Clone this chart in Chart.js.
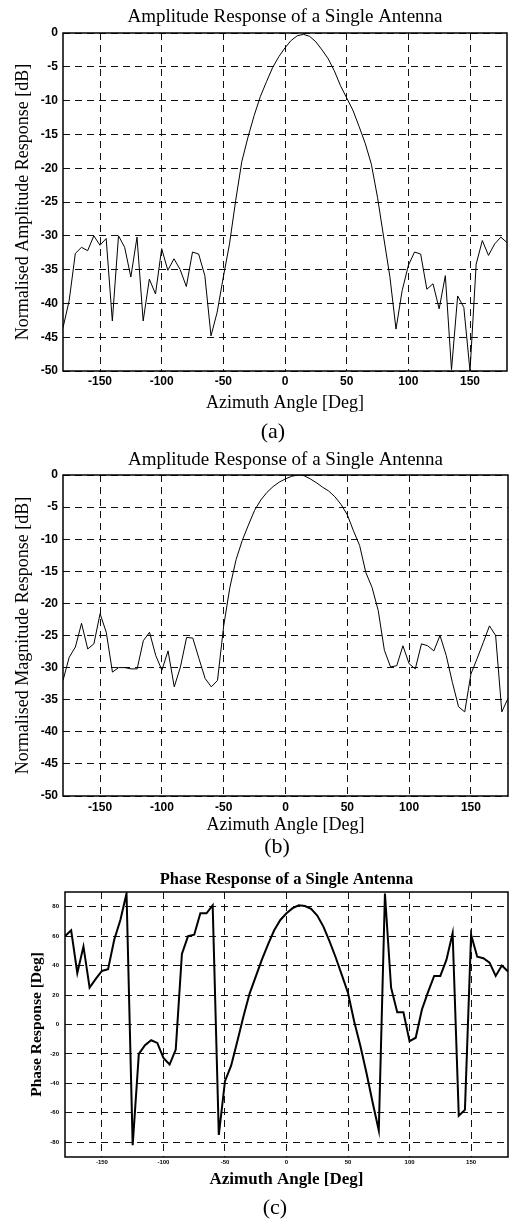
<!DOCTYPE html>
<html>
<head>
<meta charset="utf-8">
<script src="https://cdn.jsdelivr.net/npm/chart.js@4/dist/chart.umd.min.js"></script>
<style>
  body { margin: 0; background: #fff; width: 509px; height: 1219px; position: relative; overflow: hidden; }
  canvas { position: absolute; left: 0; }
  .cap { position: absolute; width: 60px; text-align: center; font-family: "Liberation Serif", "Times New Roman", serif; font-size: 22px; line-height: 24px; color: #000; }
</style>
</head>
<body>
<canvas id="chartA" width="509" height="445" style="top:0"></canvas>
<div class="cap" style="left:243px; top:419px">(a)</div>
<canvas id="chartB" width="509" height="420" style="top:445px"></canvas>
<div class="cap" style="left:247px; top:834px">(b)</div>
<canvas id="chartC" width="509" height="354" style="top:865px"></canvas>
<div class="cap" style="left:245px; top:1195px">(c)</div>
<script>
// azimuth samples, every 5 degrees
const angles = [
  -180, -175, -170, -165, -160, -155, -150, -145, -140, -135, -130, -125,
  -120, -115, -110, -105, -100, -95, -90, -85, -80, -75, -70, -65,
  -60, -55, -50, -45, -40, -35, -30, -25, -20, -15, -10, -5,
  0, 5, 10, 15, 20, 25, 30, 35, 40, 45, 50, 55,
  60, 65, 70, 75, 80, 85, 90, 95, 100, 105, 110, 115,
  120, 125, 130, 135, 140, 145, 150, 155, 160, 165, 170, 175, 180
];

// (a) normalised amplitude [dB]
const ampA = [
  -43.6, -39.6, -32.6, -31.7, -32.2, -30.0, -31.4, -30.4, -42.6, -30.0, -31.7, -36.1,
  -30.2, -42.6, -36.4, -38.6, -31.9, -35.1, -33.4, -35.0, -37.5, -32.4, -32.7, -35.9,
  -44.8, -41.3, -36.1, -31.2, -24.8, -19.0, -15.4, -12.2, -9.4, -7.2, -5.1, -3.5,
  -2.2, -1.1, -0.4, -0.2, -0.5, -1.3, -2.5, -3.8, -5.6, -7.8, -9.6, -11.4,
  -13.8, -16.3, -19.4, -24.3, -30.2, -36.0, -43.8, -38.1, -34.4, -32.4, -32.7, -37.9,
  -37.1, -40.8, -35.9, -49.8, -38.9, -40.6, -50.0, -34.2, -30.7, -32.9, -31.2, -30.2, -31.0
];

// (b) normalised magnitude [dB]
const ampB = [
  -32.0, -28.4, -26.8, -23.1, -27.1, -26.3, -21.6, -24.5, -30.7, -30.0, -30.0, -30.2,
  -30.2, -25.8, -24.5, -28.1, -30.4, -27.4, -33.0, -29.9, -25.3, -25.4, -28.6, -31.7,
  -33.0, -32.0, -23.5, -17.5, -13.2, -10.2, -7.8, -5.5, -3.9, -2.7, -1.8, -1.1,
  -0.6, -0.2, 0.0, -0.1, -0.6, -1.2, -1.9, -2.5, -3.4, -4.6, -6.2, -8.7,
  -11.0, -15.2, -17.5, -21.1, -27.3, -29.9, -29.7, -26.6, -29.4, -30.2, -26.3, -26.6,
  -27.4, -25.0, -28.1, -32.3, -36.1, -36.9, -31.0, -28.6, -26.1, -23.5, -25.0, -36.9, -34.8
];

// (c) phase [deg]
const phaseC = [
  60, 64, 35, 53, 25, 31, 36.4, 37.5, 57.6, 71, 89, -82,
  -20, -14, -10.7, -12.5, -22.7, -27.2, -17, 48, 60, 61, 75.5, 75.5,
  81, -75, -38.5, -28, -11.5, 5.5, 21, 32.5, 44, 54.5, 64, 71,
  75.5, 79, 81, 80.5, 78.5, 74, 66.5, 56.5, 45.5, 33.5, 21.4, 2,
  -14.5, -33, -53, -72, 89, 25, 8.4, 8.4, -11.3, -9, 10, 22,
  33, 33, 44, 62, -62, -58, 61, 46, 45, 42, 33, 40, 36
];

const xTicks = [-150, -100, -50, 0, 50, 100, 150];
const ampTicks = [0, -5, -10, -15, -20, -25, -30, -35, -40, -45, -50];
const phaseTicks = [80, 60, 40, 20, 0, -20, -40, -60, -80];

const serif = '"Liberation Serif", "Times New Roman", serif';
const sans = '"Liberation Sans", Arial, sans-serif';

// solid box round the plot area
const boxBorder = {
  id: 'boxBorder',
  afterDatasetsDraw(chart, args, opts) {
    const {ctx, chartArea: a} = chart;
    ctx.save();
    ctx.strokeStyle = '#000';
    ctx.lineWidth = opts.width;
    ctx.strokeRect(a.left, a.top, a.right - a.left, a.bottom - a.top);
    ctx.restore();
  }
};

function makeChart(id, values, s) {
  return new Chart(document.getElementById(id), {
    type: 'line',
    data: {
      datasets: [{
        data: values.map((v, i) => ({x: angles[i], y: v})),
        borderColor: '#000',
        borderWidth: s.lineWidth,
        pointRadius: 0,
        tension: 0,
        fill: false
      }]
    },
    plugins: [boxBorder],
    options: {
      responsive: false,
      animation: false,
      devicePixelRatio: 1,
      events: [],
      layout: {padding: s.padding},
      plugins: {
        legend: {display: false},
        tooltip: {enabled: false},
        boxBorder: {width: 1.5},
        title: {
          display: true,
          text: s.title,
          fullSize: false,
          color: '#000',
          font: s.titleFont,
          padding: s.titlePadding
        }
      },
      scales: {
        x: {
          type: 'linear',
          min: -180,
          max: 180,
          afterBuildTicks: sc => { sc.ticks = xTicks.map(v => ({value: v})); },
          afterFit: sc => { sc.height = s.xHeight; },
          grid: {color: '#111', lineWidth: 1, drawTicks: false},
          border: {display: false, dash: [7, 5]},
          ticks: {color: '#000', font: s.tickFont, padding: s.xTickPad, maxRotation: 0, autoSkip: false},
          title: {display: true, text: 'Azimuth Angle [Deg]', color: '#000', font: s.xTitleFont, padding: {top: 0, bottom: 0}}
        },
        y: {
          min: s.yMin,
          max: s.yMax,
          afterBuildTicks: sc => { sc.ticks = s.yTicks.map(v => ({value: v})); },
          afterFit: sc => { sc.width = s.yWidth; },
          grid: {color: '#111', lineWidth: 1, drawTicks: false},
          border: {display: false, dash: [7, 5]},
          ticks: {color: '#000', font: s.tickFont, padding: s.yTickPad, autoSkip: false},
          title: {display: true, text: s.yTitle, color: '#000', font: s.yTitleFont, padding: {top: s.yTitlePad, bottom: 0}}
        }
      }
    }
  });
}

makeChart('chartA', ampA, {
  title: 'Amplitude Response of a Single Antenna',
  titleFont: {family: serif, size: 19, weight: 'normal', lineHeight: 1.2},
  titlePadding: {top: 5.6, bottom: 4.6},
  yTitle: 'Normalised Amplitude Response [dB]',
  yTitleFont: {family: serif, size: 18, weight: 'normal', lineHeight: 1.2},
  yTitlePad: 12,
  xTitleFont: {family: serif, size: 18, weight: 'normal', lineHeight: 1.2},
  tickFont: {family: sans, size: 12, weight: 'bold', lineHeight: 1.2},
  yMin: -50, yMax: 0, yTicks: ampTicks,
  yWidth: 63, yTickPad: 5,
  xHeight: 42.8, xTickPad: 3,
  lineWidth: 1,
  padding: {left: 0, right: 2, top: 0, bottom: 31.2}
});

makeChart('chartB', ampB, {
  title: 'Amplitude Response of a Single Antenna',
  titleFont: {family: serif, size: 19, weight: 'normal', lineHeight: 1.2},
  titlePadding: {top: 3.6, bottom: 3.6},
  yTitle: 'Normalised Magnitude Response [dB]',
  yTitleFont: {family: serif, size: 18, weight: 'normal', lineHeight: 1.2},
  yTitlePad: 12,
  xTitleFont: {family: serif, size: 18, weight: 'normal', lineHeight: 1.2},
  tickFont: {family: sans, size: 12, weight: 'bold', lineHeight: 1.2},
  yMin: -50, yMax: 0, yTicks: ampTicks,
  yWidth: 63, yTickPad: 5,
  xHeight: 39.8, xTickPad: 4,
  lineWidth: 1,
  padding: {left: 0, right: 1, top: 0, bottom: 29.2}
});

makeChart('chartC', phaseC, {
  title: 'Phase Response of a Single Antenna',
  titleFont: {family: serif, size: 16.5, weight: 'bold', lineHeight: 1.2},
  titlePadding: {top: 5.1, bottom: 2.1},
  yTitle: 'Phase Response [Deg]',
  yTitleFont: {family: serif, size: 15.5, weight: 'bold', lineHeight: 1.2},
  yTitlePad: 28,
  xTitleFont: {family: serif, size: 17, weight: 'bold', lineHeight: 1.2},
  tickFont: {family: sans, size: 6, weight: 'bold', lineHeight: 1.2},
  yMin: -90, yMax: 90, yTicks: phaseTicks,
  yWidth: 65, yTickPad: 6,
  xHeight: 33.2, xTickPad: 2,
  lineWidth: 2,
  padding: {left: 0, right: 1, top: 0, bottom: 28.8}
});
</script>
</body>
</html>
